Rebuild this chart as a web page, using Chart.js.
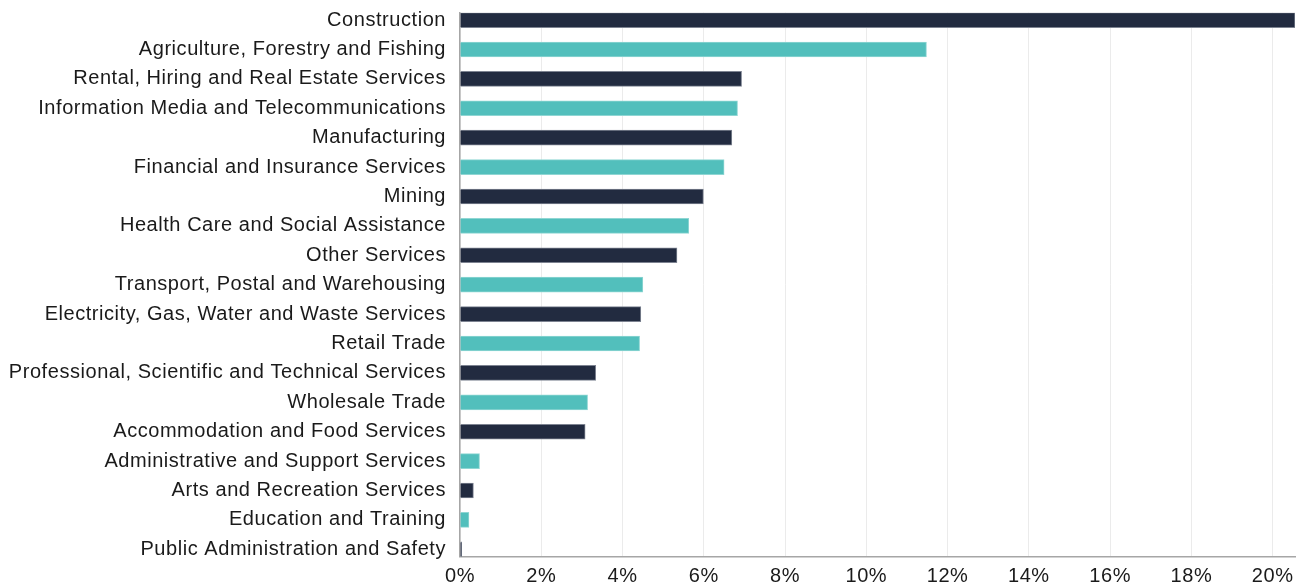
<!DOCTYPE html>
<html>
<head>
<meta charset="utf-8">
<script src="https://cdn.jsdelivr.net/npm/chart.js@4/dist/chart.umd.min.js"></script>
<style>
    html, body { margin: 0; padding: 0; background: #ffffff; }
    #wrap { width: 1308px; height: 588px; }
</style>
</head>
<body>
<div id="wrap"><canvas id="industryChart" width="1308" height="588"></canvas></div>
<script>
const industries = [
    'Construction',
    'Agriculture, Forestry and Fishing',
    'Rental, Hiring and Real Estate Services',
    'Information Media and Telecommunications',
    'Manufacturing',
    'Financial and Insurance Services',
    'Mining',
    'Health Care and Social Assistance',
    'Other Services',
    'Transport, Postal and Warehousing',
    'Electricity, Gas, Water and Waste Services',
    'Retail Trade',
    'Professional, Scientific and Technical Services',
    'Wholesale Trade',
    'Accommodation and Food Services',
    'Administrative and Support Services',
    'Arts and Recreation Services',
    'Education and Training',
    'Public Administration and Safety'
];
const shares = [20.55, 11.48, 6.93, 6.83, 6.69, 6.50, 5.99, 5.63, 5.34, 4.50, 4.45, 4.42, 3.34, 3.14, 3.08, 0.48, 0.33, 0.22, 0.04];
const xTicks = [0, 2, 4, 6, 8, 10, 12, 14, 16, 18, 20];

const navy = '#222b40';
const teal = '#52bfbc';
const fontFamily = '"Liberation Sans", Arial, Helvetica, sans-serif';

// the reference text is a little wider than plain Arial
const letterSpacing = {
    id: 'letterSpacing',
    beforeDraw: chart => { chart.ctx.letterSpacing = '0.55px'; }
};

const ctx = document.getElementById('industryChart').getContext('2d');
const industryChart = new Chart(ctx, {
    type: 'bar',
    data: {
        datasets: [{
            data: shares.map((v, i) => ({ x: v, y: i })),
            backgroundColor: shares.map((v, i) => i % 2 === 0 ? navy : teal),
            borderColor: shares.map((v, i) => i % 2 === 0 ? '#7d8391' : '#8fd6d3'),
            borderWidth: 1,
            barThickness: 15
        }]
    },
    options: {
        indexAxis: 'y',
        responsive: false,
        animation: false,
        layout: {
            padding: { top: 12.7, right: 13, left: 0, bottom: 0 }
        },
        scales: {
            x: {
                type: 'linear',
                min: 0,
                max: 20.55,
                afterBuildTicks: axis => { axis.ticks = xTicks.map(v => ({ value: v })); },
                afterFit: axis => { axis.height = 31.3; },
                ticks: {
                    includeBounds: false,
                    color: '#1a1a1a',
                    padding: 8,
                    font: { family: fontFamily, size: 20 },
                    callback: v => v + '%'
                },
                grid: {
                    color: '#ebebeb',
                    lineWidth: 1,
                    drawTicks: false
                },
                border: {
                    display: true,
                    color: '#a6a6a6',
                    width: 1.5
                }
            },
            y: {
                type: 'linear',
                reverse: true,
                offset: false,
                min: -0.25,
                max: 18.25,
                afterBuildTicks: axis => { axis.ticks = industries.map((c, i) => ({ value: i })); },
                afterFit: axis => {
                    axis.width = 460;
                    axis.paddingTop = 0;
                    axis.paddingBottom = 0;
                },
                ticks: {
                    color: '#1a1a1a',
                    padding: 14,
                    autoSkip: false,
                    font: { family: fontFamily, size: 20 },
                    callback: v => industries[v]
                },
                grid: {
                    display: false,
                    offset: false,
                    drawTicks: false
                },
                border: {
                    display: true,
                    color: '#a6a6a6',
                    width: 1.5
                }
            }
        },
        plugins: {
            legend: { display: false },
            tooltip: { enabled: false }
        }
    },
    plugins: [letterSpacing]
});
</script>
</body>
</html>
